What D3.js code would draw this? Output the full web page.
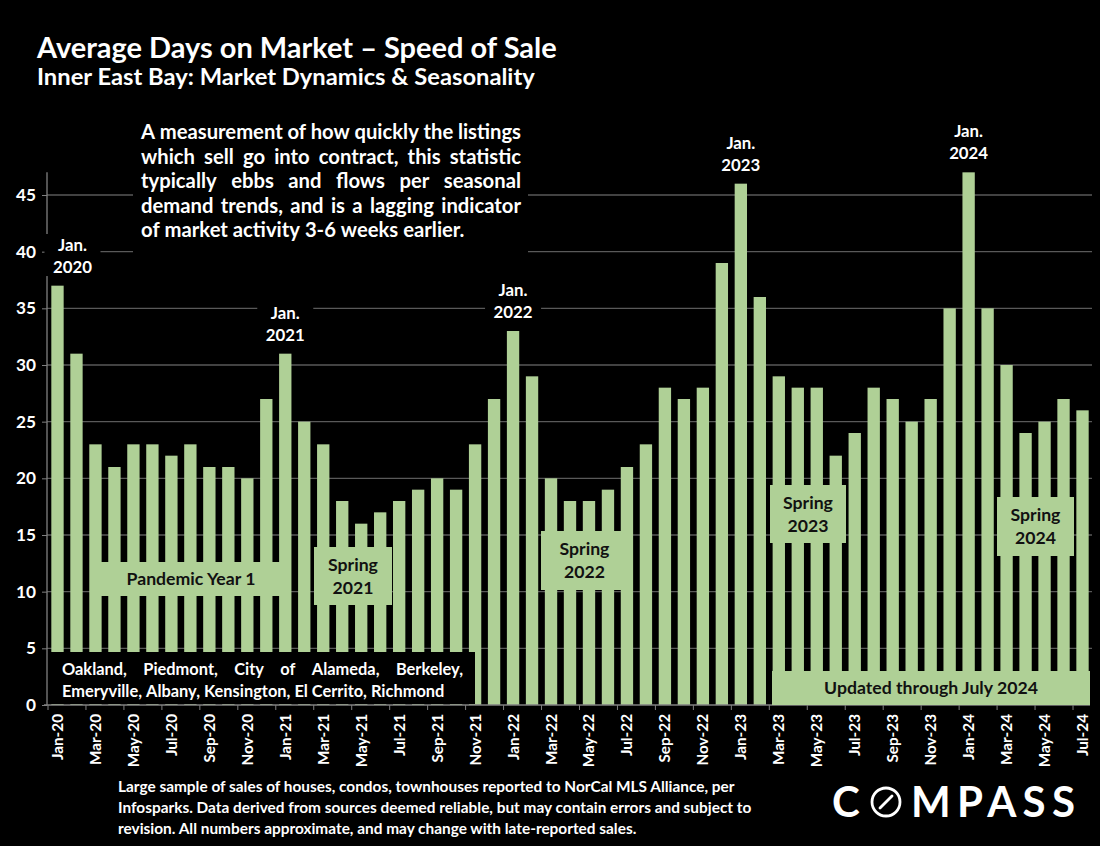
<!DOCTYPE html>
<html><head><meta charset="utf-8">
<script src="https://cdn.jsdelivr.net/npm/d3@7"></script>
<style>
body{margin:0;background:#000}
svg{display:block}
text{font-family:Lato,"Open Sans",sans-serif;font-weight:700}
</style>
</head><body>
<svg id="c" width="1100" height="846"></svg>
<script>
// ---------- DATA ----------
const months = ["Jan-20","Feb-20","Mar-20","Apr-20","May-20","Jun-20","Jul-20","Aug-20","Sep-20","Oct-20","Nov-20","Dec-20",
"Jan-21","Feb-21","Mar-21","Apr-21","May-21","Jun-21","Jul-21","Aug-21","Sep-21","Oct-21","Nov-21","Dec-21",
"Jan-22","Feb-22","Mar-22","Apr-22","May-22","Jun-22","Jul-22","Aug-22","Sep-22","Oct-22","Nov-22","Dec-22",
"Jan-23","Feb-23","Mar-23","Apr-23","May-23","Jun-23","Jul-23","Aug-23","Sep-23","Oct-23","Nov-23","Dec-23",
"Jan-24","Feb-24","Mar-24","Apr-24","May-24","Jun-24","Jul-24"];
const daysOnMarket = [37,31,23,21,23,23,22,23,21,21,20,27,
31,25,23,18,16,17,18,19,20,19,23,27,
33,29,20,18,18,19,21,23,28,27,28,39,
46,36,29,28,28,22,24,28,27,25,27,35,
47,35,30,24,25,27,26];
const yTicks = [0,5,10,15,20,25,30,35,40,45];
const xTickLabels = months.filter((m,i)=>i%2===0);
const janLabels = [{m:"Jan-20",l1:"Jan.",l2:"2020"},{m:"Jan-21",l1:"Jan.",l2:"2021"},{m:"Jan-22",l1:"Jan.",l2:"2022"},{m:"Jan-23",l1:"Jan.",l2:"2023"},{m:"Jan-24",l1:"Jan.",l2:"2024"}];
const titleText = "Average Days on Market \u2013 Speed of Sale";
const subtitleText = "Inner East Bay: Market Dynamics & Seasonality";
const descLines = ["A measurement of how quickly the listings","which sell go into contract, this statistic","typically ebbs and flows per seasonal","demand trends, and is a lagging indicator","of market activity 3-6 weeks earlier."];
const areaLines = ["Oakland, Piedmont, City of Alameda, Berkeley,","Emeryville, Albany, Kensington, El Cerrito, Richmond"];
const footerLines = ["Large sample of sales of houses, condos, townhouses reported to NorCal MLS Alliance, per","Infosparks. Data derived from sources deemed reliable, but may contain errors and subject to","revision. All numbers approximate, and may change with late-reported sales."];
const annotations = [
 {lines:["Pandemic Year 1"], box:[92,562,290,596]},
 {lines:["Spring","2021"], box:[314,547,392,605]},
 {lines:["Spring","2022"], box:[541,531,628,590]},
 {lines:["Spring","2023"], box:[770,485,846,543]},
 {lines:["Spring","2024"], box:[997,497,1074,556]},
 {lines:["Updated through July 2024"], box:[772,671,1090,705]}
];

// ---------- SETUP ----------
const svg = d3.select("#c");
const GREEN = "#afd096";
svg.append("rect").attr("width",1100).attr("height",846).attr("fill","#000");

function measure(str, size, weight){
  const t = svg.append("text").attr("font-size",size).attr("font-weight",weight||700).text(str);
  const w = t.node().getComputedTextLength(); t.remove(); return w;
}
function fit(str, w, weight){ return 100*w/measure(str,100,weight); }

const x = d3.scaleBand().domain(months).range([48,1092]).paddingInner(0.35).paddingOuter(0.175);
const y = d3.scaleLinear().domain([0,45]).range([705,195]);

// gridlines
svg.append("g").selectAll("line").data(yTicks.filter(d=>d>0)).join("line")
  .attr("x1",47).attr("x2",1092).attr("y1",d=>y(d)).attr("y2",d=>y(d))
  .attr("stroke","#595959").attr("stroke-width",1.3);

// bars
svg.append("g").selectAll("rect").data(months).join("rect")
  .attr("x",d=>x(d)).attr("width",x.bandwidth())
  .attr("y",(d,i)=>y(daysOnMarket[i])).attr("height",(d,i)=>y(0)-y(daysOnMarket[i]))
  .attr("fill",GREEN);

// y axis
const yFs = fit("45",20);
const yAxis = svg.append("g").attr("transform","translate(47,0)")
  .call(d3.axisLeft(y).tickValues(yTicks).tickSize(5).tickSizeOuter(0).tickPadding(6));
yAxis.select(".domain").remove();
yAxis.selectAll("line").attr("stroke","#808080");
yAxis.selectAll("text").attr("fill","#fff").attr("font-size",yFs).attr("font-family","Lato").attr("font-weight",700);
svg.append("line").attr("x1",47).attr("x2",47).attr("y1",y(47)).attr("y2",y(0)).attr("stroke","#808080").attr("stroke-width",1.3);

// x axis
svg.append("line").attr("x1",44).attr("x2",1090).attr("y1",y(0)).attr("y2",y(0)).attr("stroke","#808080").attr("stroke-width",1.3);
const step = x.step();
const bounds = d3.range(0,56,2).map(i=>48+i*step);
svg.append("g").selectAll("line").data(bounds).join("line")
  .attr("x1",d=>d).attr("x2",d=>d).attr("y1",y(0)).attr("y2",y(0)+5).attr("stroke","#808080");
const xFs = fit("Jan-20",46);
svg.append("g").selectAll("text").data(xTickLabels).join("text")
  .attr("transform",d=>`translate(${x(d)+x.bandwidth()/2},714) rotate(-90)`)
  .attr("text-anchor","end").attr("dy","0.36em").attr("fill","#fff").attr("font-size",xFs).text(d=>d);

// Jan labels
const janFs = fit("2024",39);
janLabels.forEach((j,k)=>{
  let cx = x(j.m)+x.bandwidth()/2 + (k===0?15:0);
  const v = daysOnMarket[months.indexOf(j.m)];
  const base = y(v) - 13;
  svg.append("rect").attr("x",cx-28).attr("y",base-janFs*2.3).attr("width",56).attr("height",janFs*2.5).attr("fill","#000");
  svg.append("text").attr("x",cx).attr("y",base-janFs*1.3).attr("text-anchor","middle").attr("fill","#fff").attr("font-size",janFs).text(j.l1);
  svg.append("text").attr("x",cx).attr("y",base).attr("text-anchor","middle").attr("fill","#fff").attr("font-size",janFs).text(j.l2);
});

// justified text helper
function justified(lines, x0, x1, y0, lh, fs, fill, justifyIdx){
  lines.forEach((ln,i)=>{
    const words = ln.split(" ");
    const ws = words.map(w=>measure(w,fs));
    const total = d3.sum(ws);
    const spaceW = measure("a b",fs)-measure("ab",fs);
    const gap = justifyIdx.includes(i) ? (x1-x0-total)/(words.length-1) : spaceW;
    let cx = x0;
    words.forEach((w,k)=>{
      svg.append("text").attr("x",cx).attr("y",y0+i*lh).attr("fill",fill).attr("font-size",fs).text(w);
      cx += ws[k]+gap;
    });
  });
}

// description box
svg.append("rect").attr("x",133).attr("y",117).attr("width",395).attr("height",136).attr("fill","#000");
const dFs = fit(descLines[0],380);
justified(descLines,141,521,139,24.5,dFs,"#fff",[0,1,2,3]);

// area box
svg.append("rect").attr("x",48).attr("y",652).attr("width",427).attr("height",52).attr("fill","#000");
const aFs = fit(areaLines[1],382);
justified(areaLines,62,463,675,21.5,aFs,"#fff",[0]);

// annotations
const annFs = fit("Updated through July 2024",214);
annotations.forEach(a=>{
  const [x0,y0,x1,y1]=a.box;
  svg.append("rect").attr("x",x0).attr("y",y0).attr("width",x1-x0).attr("height",y1-y0).attr("fill",GREEN);
  const cx=(x0+x1)/2, cy=(y0+y1)/2, lh=annFs*1.3;
  a.lines.forEach((l,i)=>{
    svg.append("text").attr("x",cx).attr("y",cy+(i-(a.lines.length-1)/2)*lh).attr("dy","0.36em")
      .attr("text-anchor","middle").attr("fill","#111").attr("font-size",annFs).text(l);
  });
});

// titles
svg.append("text").attr("x",37).attr("y",58).attr("fill","#fff").attr("font-size",fit(titleText,520)).text(titleText);
svg.append("text").attr("x",37).attr("y",85).attr("fill","#fff").attr("font-size",fit(subtitleText,498)).text(subtitleText);

// footer
const fFs = fit(footerLines[0],617);
footerLines.forEach((l,i)=>svg.append("text").attr("x",118).attr("y",792+i*21).attr("fill","#fff").attr("font-size",fFs).text(l));

// logo
const logo = svg.append("g");
logo.append("text").attr("x",832).attr("y",817).attr("fill","#fff").attr("font-size",42).attr("font-weight",300).text("C");
logo.append("circle").attr("cx",886).attr("cy",802).attr("r",14).attr("fill","none").attr("stroke","#fff").attr("stroke-width",2.8);
logo.append("line").attr("x1",880).attr("y1",808).attr("x2",892).attr("y2",796).attr("stroke","#fff").attr("stroke-width",2.8).attr("stroke-linecap","round");
logo.append("text").attr("x",911).attr("y",817).attr("fill","#fff").attr("font-size",42).attr("font-weight",300)
  .attr("textLength",164).attr("lengthAdjust","spacing").text("MPASS");
</script>
</body></html>
